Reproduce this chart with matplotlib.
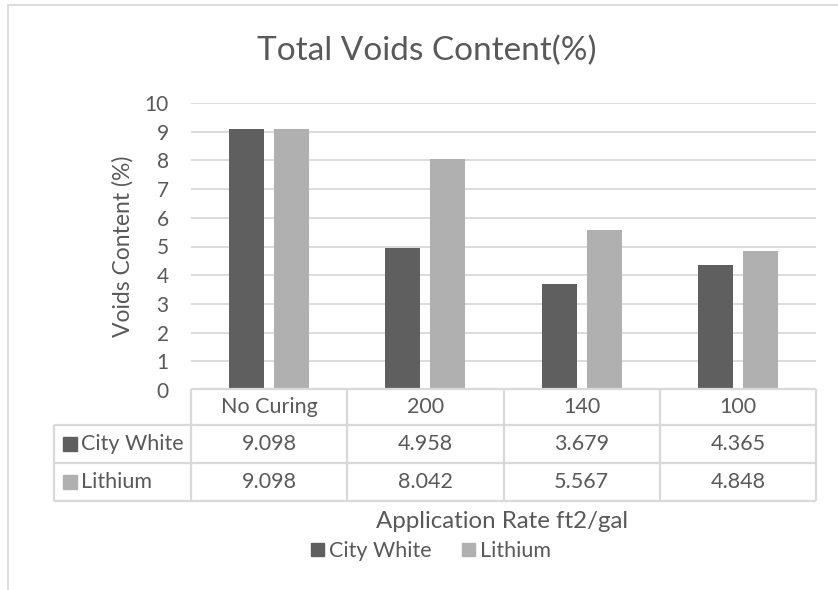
import matplotlib
matplotlib.use("Agg")
import matplotlib.pyplot as plt
import numpy as np
from matplotlib.lines import Line2D
from matplotlib.patches import Rectangle
from matplotlib.transforms import blended_transform_factory

plt.rcParams["font.family"] = ["Lato", "DejaVu Sans"]

categories = ["No Curing", "200", "140", "100"]
series_names = ["City White", "Lithium"]
city_white = [9.098, 4.958, 3.679, 4.365]
lithium = [9.098, 8.042, 5.567, 4.848]
yticks = list(range(0, 11))

TXT = "#595959"
GRID = "#d9d9d9"
COLORS = ["#5f5f5f", "#b0b0b0"]
W, H = 838, 590
FS = 15.5  # table / legend text


def fx(px):
    return px / W


def fy(py):
    return 1 - py / H


fig = plt.figure(figsize=(W / 100, H / 100), dpi=100)
ax = fig.add_axes([fx(191), fy(390), fx(816) - fx(191), fy(103) - fy(390)])

x = np.arange(len(categories))
bw = 0.224
off = 0.144
ax.bar(x - off, city_white, bw, color=COLORS[0], zorder=3)
ax.bar(x + off, lithium, bw, color=COLORS[1], zorder=3)

ax.set_xlim(-0.5, len(categories) - 0.5)
ax.set_ylim(0, 10)
ax.set_yticks(yticks)
ax.set_yticklabels([str(t) for t in yticks])
ax.tick_params(axis="y", length=0, labelsize=15, labelcolor=TXT, pad=16)
ax.set_xticks([])
ax.grid(axis="y", color=GRID, lw=1.3, zorder=0)
for s in ax.spines.values():
    s.set_visible(False)
ax.set_ylabel("Voids Content (%)", fontsize=16.5, color=TXT, labelpad=8)

fig.text(fx(427), fy(51), "Total Voids Content(%)", fontsize=24, color=TXT,
         ha="center", va="center")

# ---- data table under the axis ---------------------------------------------
bt = blended_transform_factory(ax.transData, fig.transFigure)
rows_y = [389, 425, 463, 501]
lkw = dict(color=GRID, lw=1.6, solid_capstyle="butt")
# horizontal lines
fig.add_artist(Line2D([fx(191), fx(816)], [fy(389)] * 2, **lkw))
for ry in rows_y[1:]:
    fig.add_artist(Line2D([fx(54), fx(816)], [fy(ry)] * 2, **lkw))
# vertical lines
for i in range(len(categories) + 1):
    ax.add_artist(Line2D([i - 0.5] * 2, [fy(389), fy(501)], transform=bt,
                         clip_on=False, **lkw))
fig.add_artist(Line2D([fx(54)] * 2, [fy(425), fy(501)], **lkw))

for i, c in enumerate(categories):
    ax.text(i, fy(407), c, transform=bt, ha="center", va="center",
            fontsize=FS, color=TXT)
for r, (name, vals) in enumerate(zip(series_names, [city_white, lithium])):
    yc = (rows_y[r + 1] + rows_y[r + 2]) / 2
    fig.add_artist(Rectangle((fx(63), fy(yc + 7)), fx(14), 14 / H,
                             color=COLORS[r]))
    fig.text(fx(81), fy(yc), name, fontsize=FS, color=TXT, ha="left",
             va="center")
    for i, v in enumerate(vals):
        ax.text(i, fy(yc), f"{v:.3f}", transform=bt, ha="center",
                va="center", fontsize=FS, color=TXT)

fig.text(fx(502), fy(521), "Application Rate ft2/gal", fontsize=17.3,
         color=TXT, ha="center", va="center")

# legend
handles = [Rectangle((0, 0), 1, 1, color=c) for c in COLORS]
fig.legend(handles, series_names, loc="center", bbox_to_anchor=(fx(431), fy(551)),
           ncol=2, frameon=False, fontsize=FS, labelcolor=TXT,
           handlelength=0.6, handleheight=0.6, handletextpad=0.25,
           columnspacing=1.4)

# chart area border (cropped on the right and bottom)
fig.add_artist(Rectangle((fx(8), fy(600)), fx(900), fy(5) - fy(600),
                         fill=False, ec=GRID, lw=1.3))

fig.savefig("out.png", dpi=100, facecolor="white")
